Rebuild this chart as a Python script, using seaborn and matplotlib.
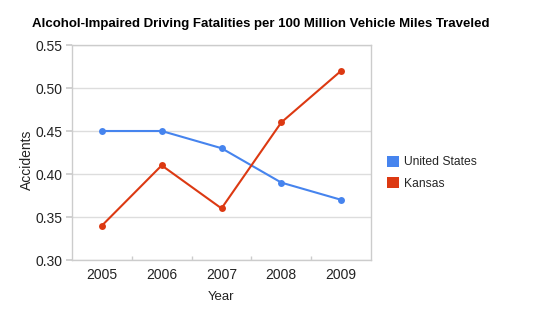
import matplotlib
matplotlib.use("Agg")
import matplotlib.pyplot as plt
import seaborn as sns
import pandas as pd
from matplotlib.patches import Patch
from matplotlib.ticker import FixedLocator

years = ["2005", "2006", "2007", "2008", "2009"]
us_values = [0.45, 0.45, 0.43, 0.39, 0.37]
kansas_values = [0.34, 0.41, 0.36, 0.46, 0.52]
series_names = ["United States", "Kansas"]
colors = ["#4684EE", "#DC3912"]
y_ticks = [0.30, 0.35, 0.40, 0.45, 0.50, 0.55]

df = pd.DataFrame({
    "Year": years * 2,
    "Accidents": us_values + kansas_values,
    "Series": [series_names[0]] * len(years) + [series_names[1]] * len(years),
})

sns.set_theme(style="white")
plt.rcParams["font.family"] = ["Liberation Sans", "DejaVu Sans"]

fig = plt.figure(figsize=(5.5, 3.25), dpi=100)
ax = fig.add_axes([72/550, 65/325, 299/550, 215/325])

sns.lineplot(data=df, x="Year", y="Accidents", hue="Series", palette=colors,
             marker="o", markersize=5, markeredgewidth=0, linewidth=1.5,
             ax=ax, legend=False, sort=False)

ax.set_xlim(-0.5, len(years) - 0.5)
ax.set_ylim(0.30, 0.55)
ax.set_yticks(y_ticks)
ax.set_yticklabels([f"{v:.2f}" for v in y_ticks])
ax.yaxis.grid(True, color="#dddddd", linewidth=1)
ax.set_axisbelow(True)
for s in ax.spines.values():
    s.set_color("#cccccc")
    s.set_linewidth(1)
ax.tick_params(axis="y", which="major", length=4, color="#cccccc", pad=3, labelsize=10, labelcolor="#222222", left=True)
ax.tick_params(axis="x", which="major", length=0, pad=6, labelsize=10, labelcolor="#222222")
ax.xaxis.set_minor_locator(FixedLocator([i + 0.5 for i in range(len(years) - 1)]))
ax.tick_params(axis="x", which="minor", length=3, color="#cccccc", bottom=True, direction="in")

ax.set_xlabel("Year", fontsize=9.5, color="#222222", labelpad=6)
ax.set_ylabel("Accidents", fontsize=10, color="#222222")
ax.yaxis.set_label_coords(-0.128, 0.465)

fig.text(32/550, 1 - 24/325, "Alcohol-Impaired Driving Fatalities per 100 Million Vehicle Miles Traveled",
         fontsize=9.5, fontweight="bold", color="#000000", va="center", ha="left")

handles = [Patch(facecolor=c, edgecolor="none") for c in colors]
fig.legend(handles, series_names, loc="upper left", bbox_to_anchor=(382/550, 1 - 151/325),
           frameon=False, fontsize=8.7, handlelength=1.0, handleheight=1.0,
           handletextpad=0.45, labelspacing=0.75, borderaxespad=0)

fig.savefig("out.png", dpi=100, facecolor="white")
